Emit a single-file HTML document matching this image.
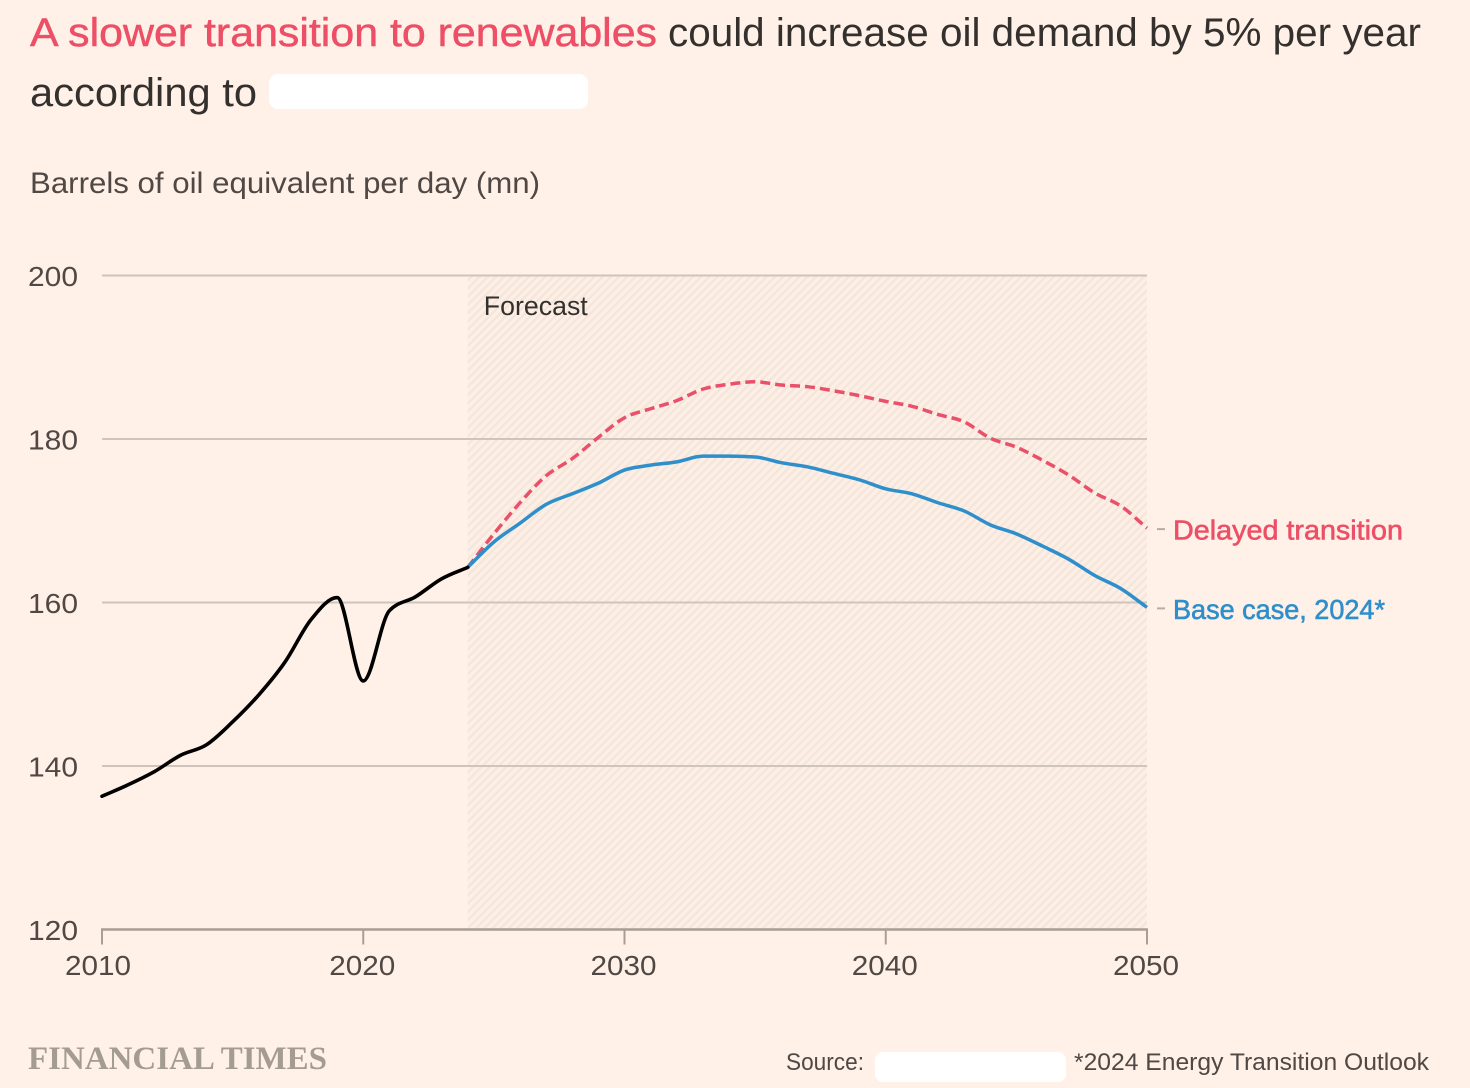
<!DOCTYPE html>
<html lang="en">
<head>
<meta charset="utf-8">
<title>Oil demand forecast</title>
<style>
html,body{margin:0;padding:0;background:#fff1e7;}
body{width:1470px;height:1088px;overflow:hidden;}
svg{display:block;font-family:"Liberation Sans",sans-serif;}
</style>
</head>
<body>
<svg id="chart" width="1470" height="1088" viewBox="0 0 1470 1088">
  <defs>
    <pattern id="hatch" width="5.8" height="5.8" patternUnits="userSpaceOnUse" patternTransform="rotate(45)">
      <rect width="5.8" height="5.8" fill="#fdefe5"></rect>
      <rect width="2.4" height="5.8" fill="#f5e6db"></rect>
    </pattern>
  </defs>
  <rect width="1470" height="1088" fill="#fff1e7"></rect>

  <text x="30" y="46" font-size="40" fill="#ed4f66" stroke="#ed4f66" stroke-width="0.5" textLength="627" lengthAdjust="spacingAndGlyphs">A slower transition to renewables</text>
  <text x="668" y="46" font-size="40" fill="#33302e" textLength="753" lengthAdjust="spacingAndGlyphs">could increase oil demand by 5% per year</text>
  <text x="30" y="106" font-size="40" fill="#33302e" textLength="227" lengthAdjust="spacingAndGlyphs">according to</text>
  <rect x="269" y="74" width="319" height="35" rx="9" fill="#ffffff"></rect>

  <text x="30" y="193" font-size="30" fill="#4f4844" textLength="510" lengthAdjust="spacingAndGlyphs">Barrels of oil equivalent per day (mn)</text>

  <g id="plot"></g>

  <text x="28" y="1069" font-size="32.5" font-weight="bold" fill="#a39c8f" font-family="'Liberation Serif',serif" textLength="299" lengthAdjust="spacingAndGlyphs">FINANCIAL TIMES</text>
  <text x="786" y="1070" font-size="24" fill="#4f4844" textLength="78" lengthAdjust="spacingAndGlyphs">Source:</text>
  <rect x="875" y="1052" width="191" height="30" rx="8" fill="#ffffff"></rect>
  <text x="1074" y="1070" font-size="24" fill="#4f4844" textLength="355" lengthAdjust="spacingAndGlyphs">*2024 Energy Transition Outlook</text>
</svg>
<script>
const yTicks = [120, 140, 160, 180, 200];
const xTicks = [2010, 2020, 2030, 2040, 2050];
const historyYears = [2010,2011,2012,2013,2014,2015,2016,2017,2018,2019,2020,2021,2022,2023,2024];
const historyValues = [136.3,137.7,139.3,141.3,142.6,145.4,148.7,152.7,157.9,160.6,150.4,159.0,160.7,162.9,164.3];
const forecastYears = [2024,2025,2026,2027,2028,2029,2030,2031,2032,2033,2034,2035,2036,2037,2038,2039,2040,2041,2042,2043,2044,2045,2046,2047,2048,2049,2050];
const baseCaseValues = [164.3,167.4,169.7,172.0,173.3,174.6,176.2,176.8,177.2,177.9,177.9,177.8,177.1,176.6,175.8,175.0,173.9,173.3,172.2,171.2,169.5,168.4,166.9,165.3,163.3,161.7,159.4];
const delayedValues = [164.3,168.4,172.2,175.5,177.6,180.2,182.6,183.7,184.7,186.1,186.7,187.0,186.6,186.4,185.9,185.3,184.6,184.0,183.0,182.1,180.1,179.0,177.4,175.6,173.4,171.8,169.1];
const forecastStart = 2024;
const forecastLabel = "Forecast";
const delayedLabel = "Delayed transition";
const baseLabel = "Base case, 2024*";

const NS = "http://www.w3.org/2000/svg";
const plot = document.getElementById("plot");
const xMin = xTicks[0], xMax = xTicks[xTicks.length - 1];
const yMin = yTicks[0], yMax = yTicks[yTicks.length - 1];
function xScale(v){ return 102 + (v - xMin) / (xMax - xMin) * 1045; }
function yScale(v){ return 929.5 - (v - yMin) / (yMax - yMin) * 654; }

function make(tag, attrs, text){
  const el = document.createElementNS(NS, tag);
  for (const k in attrs) el.setAttribute(k, attrs[k]);
  if (text !== undefined) el.textContent = text;
  plot.appendChild(el);
  return el;
}

/* monotone-x curve through scaled points */
function curvePath(xs, ys){
  const px = xs.map(xScale), py = ys.map(yScale), n = px.length;
  const d = [], m = new Array(n);
  for (let i = 0; i < n - 1; i++) d[i] = (py[i + 1] - py[i]) / (px[i + 1] - px[i]);
  m[0] = d[0]; m[n - 1] = d[n - 2];
  for (let i = 1; i < n - 1; i++){
    if (d[i - 1] * d[i] <= 0) m[i] = 0;
    else {
      const h0 = px[i] - px[i - 1], h1 = px[i + 1] - px[i];
      const p = (d[i - 1] * h1 + d[i] * h0) / (h0 + h1);
      m[i] = Math.sign(d[i]) * Math.min(Math.abs(d[i - 1]), Math.abs(d[i]), Math.abs(p) / 2) * 2;
      m[i] = Math.sign(m[i]) * Math.min(Math.abs(m[i]), 3 * Math.abs(d[i - 1]), 3 * Math.abs(d[i]));
    }
  }
  let s = "M" + px[0] + "," + py[0];
  for (let i = 0; i < n - 1; i++){
    const h = (px[i + 1] - px[i]) / 3;
    s += "C" + (px[i] + h) + "," + (py[i] + m[i] * h) + " " + (px[i + 1] - h) + "," + (py[i + 1] - m[i + 1] * h) + " " + px[i + 1] + "," + py[i + 1];
  }
  return s;
}

const band = make("rect", {x: xScale(forecastStart), y: yScale(yMax), width: xScale(xMax) - xScale(forecastStart), height: yScale(yMin) - yScale(yMax), fill: "url(#hatch)"});



yTicks.forEach(function(t){
  if (t !== yMin){
    const g = make("line", {x1: xScale(xMin), x2: xScale(xMax), y1: yScale(t), y2: yScale(t), stroke: "#cfc4bb", "stroke-width": 2});
    
    
  }
  const l = make("text", {x: 78, y: yScale(t) + 10.5, "font-size": 28, fill: "#4f4844", "text-anchor": "end", textLength: 50, lengthAdjust: "spacingAndGlyphs"}, String(t));
  
  
});

const axis = make("line", {x1: xScale(xMin) - 1, x2: xScale(xMax) + 1, y1: yScale(yMin), y2: yScale(yMin), stroke: "#a89e92", "stroke-width": 2.5});



xTicks.forEach(function(t){
  const tk = make("line", {x1: xScale(t), x2: xScale(t), y1: yScale(yMin), y2: yScale(yMin) + 15, stroke: "#a89e92", "stroke-width": 2});
  
  
  const l = make("text", {x: xScale(t) - (t === xMin ? 4 : 1), y: 975, "font-size": 28, fill: "#4f4844", "text-anchor": "middle", textLength: 66, lengthAdjust: "spacingAndGlyphs"}, String(t));
  
  
});

const fl = make("text", {x: xScale(forecastStart) + 16, y: 315, "font-size": 27, fill: "#33302e", textLength: 104, lengthAdjust: "spacingAndGlyphs"}, forecastLabel);



const delayedLine = make("path", {d: curvePath(forecastYears, delayedValues), fill: "none", stroke: "#e9506a", "stroke-width": 3.5, "stroke-dasharray": "10 5"});



const baseLine = make("path", {d: curvePath(forecastYears, baseCaseValues), fill: "none", stroke: "#2f8fcb", "stroke-width": 3.5});



const histLine = make("path", {d: curvePath(historyYears, historyValues), fill: "none", stroke: "#000000", "stroke-width": 3.6, "stroke-linecap": "round"});



const dEnd = yScale(delayedValues[delayedValues.length - 1]);
const bEnd = yScale(baseCaseValues[baseCaseValues.length - 1]);

const dTick = make("line", {x1: xScale(xMax) + 10, x2: xScale(xMax) + 18, y1: dEnd + 1, y2: dEnd + 1, stroke: "#b5aca3", "stroke-width": 2});


const bTick = make("line", {x1: xScale(xMax) + 10, x2: xScale(xMax) + 18, y1: bEnd + 1, y2: bEnd + 1, stroke: "#b5aca3", "stroke-width": 2});



const dText = make("text", {x: 1173, y: dEnd + 11.5, "font-size": 28, fill: "#ed4f66", textLength: 230, lengthAdjust: "spacingAndGlyphs", stroke: "#ed4f66", "stroke-width": 0.6}, delayedLabel);


const bText = make("text", {x: 1173, y: bEnd + 11.5, "font-size": 28, fill: "#2f8fcb", textLength: 212, lengthAdjust: "spacingAndGlyphs", stroke: "#2f8fcb", "stroke-width": 0.6}, baseLabel);


</script>
</body>
</html>
